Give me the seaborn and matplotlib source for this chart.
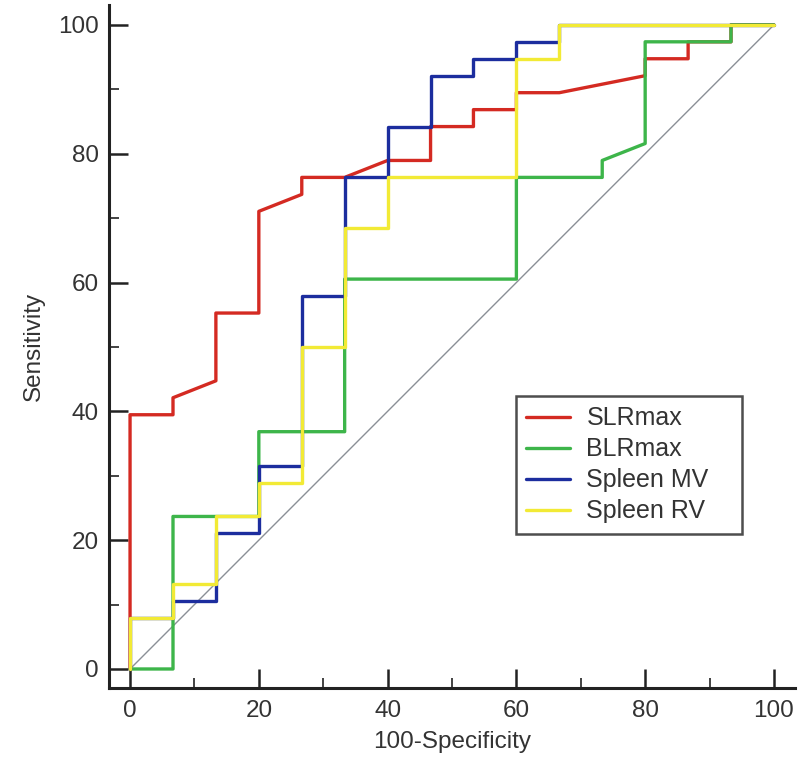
import matplotlib
matplotlib.use("Agg")
import matplotlib.pyplot as plt
import seaborn as sns
import pandas as pd
from matplotlib.ticker import MultipleLocator

# ---- data (100-Specificity, Sensitivity) ----
slr_x = [0, 0, 6.67, 6.67, 13.33, 13.33, 20, 20, 26.67, 26.67, 33.33, 40, 46.67, 46.67,
         53.33, 53.33, 60, 60, 66.67, 80, 80, 86.67, 86.67, 93.33, 93.33, 100]
slr_y = [0, 39.47, 39.47, 42.11, 44.74, 55.26, 55.26, 71.05, 73.68, 76.32, 76.32, 78.95, 78.95, 84.21,
         84.21, 86.84, 86.84, 89.47, 89.47, 92.11, 94.74, 94.74, 97.37, 97.37, 100, 100]

blr_x = [0, 6.67, 6.67, 20, 20, 33.33, 33.33, 60, 60, 73.33, 73.33, 80, 80, 93.33, 93.33, 100]
blr_y = [0, 0, 23.68, 23.68, 36.84, 36.84, 60.53, 60.53, 76.32, 76.32, 78.95, 81.58, 97.37, 97.37, 100, 100]

mv_x = [0, 0, 6.67, 6.67, 13.33, 13.33, 20, 20, 26.67, 26.67, 33.33, 33.33, 40, 40,
        46.67, 46.67, 53.33, 53.33, 60, 60, 66.67, 66.67, 100]
mv_y = [0, 7.89, 7.89, 10.53, 10.53, 21.05, 21.05, 31.58, 31.58, 57.89, 57.89, 76.32, 76.32, 84.21,
        84.21, 92.11, 92.11, 94.74, 94.74, 97.37, 97.37, 100, 100]

rv_x = [0, 0, 6.67, 6.67, 13.33, 13.33, 20, 20, 26.67, 26.67, 33.33, 33.33, 40, 40,
        60, 60, 66.67, 66.67, 100]
rv_y = [0, 7.89, 7.89, 13.16, 13.16, 23.68, 23.68, 28.95, 28.95, 50, 50, 68.42, 68.42, 76.32,
        76.32, 94.74, 94.74, 100, 100]

series_names = ["SLRmax", "BLRmax", "Spleen MV", "Spleen RV"]
series_colors = ["#d42a22", "#3db54a", "#1c2d9e", "#f2ea35"]
ref_x = [0, 100]
ref_y = [0, 100]

frames = []
for name, xs, ys in zip(series_names, [slr_x, blr_x, mv_x, rv_x], [slr_y, blr_y, mv_y, rv_y]):
    frames.append(pd.DataFrame({"fpr": xs, "tpr": ys, "curve": name, "order": range(len(xs))}))
df = pd.concat(frames, ignore_index=True)

sns.set_theme(style="ticks")
plt.rcParams["font.family"] = ["Liberation Sans", "DejaVu Sans"]

fig = plt.figure(figsize=(8, 7.78), dpi=100)
ax = fig.add_axes([0.136, 0.1157, 0.858, 0.878])

ax.plot(ref_x, ref_y, color="#8a8f96", lw=1.0, zorder=1)

for name, col in zip(series_names, series_colors):
    sub = df[df["curve"] == name]
    sns.lineplot(data=sub, x="fpr", y="tpr", sort=False, estimator=None, color=col,
                 lw=2.4, ax=ax, label=name, zorder=2)

ax.set_xlim(-3.3, 103.3)
ax.set_ylim(-2.95, 103.1)
ax.xaxis.set_major_locator(MultipleLocator(20))
ax.xaxis.set_minor_locator(MultipleLocator(10))
ax.yaxis.set_major_locator(MultipleLocator(20))
ax.yaxis.set_minor_locator(MultipleLocator(10))
ax.tick_params(which="major", direction="in", length=14, width=1.8, colors="#222222",
               labelsize=17.5, labelcolor="#333333", pad=7)
ax.tick_params(which="minor", direction="in", length=7, width=1.2, colors="#222222")
ax.tick_params(axis="x", which="both", pad=9)
for s in ["top", "right"]:
    ax.spines[s].set_visible(False)
for s in ["left", "bottom"]:
    ax.spines[s].set_linewidth(2.2)
    ax.spines[s].set_color("#222222")

ax.set_xlabel("100-Specificity", fontsize=17.5, color="#333333", labelpad=6)
ax.set_ylabel("Sensitivity", fontsize=17.5, color="#333333", labelpad=10)

leg = ax.legend(loc="lower left", bbox_to_anchor=(0.593, 0.2255, 0.33, 0.2065), mode="expand",
                borderaxespad=0, fontsize=18, frameon=True, fancybox=False,
                handlelength=1.75, handletextpad=0.65, labelspacing=0.28, borderpad=0.42)
leg.get_frame().set_edgecolor("#222222")
leg.get_frame().set_linewidth(1.8)
for t in leg.get_texts():
    t.set_color("#333333")

fig.savefig("out.png", dpi=100)
